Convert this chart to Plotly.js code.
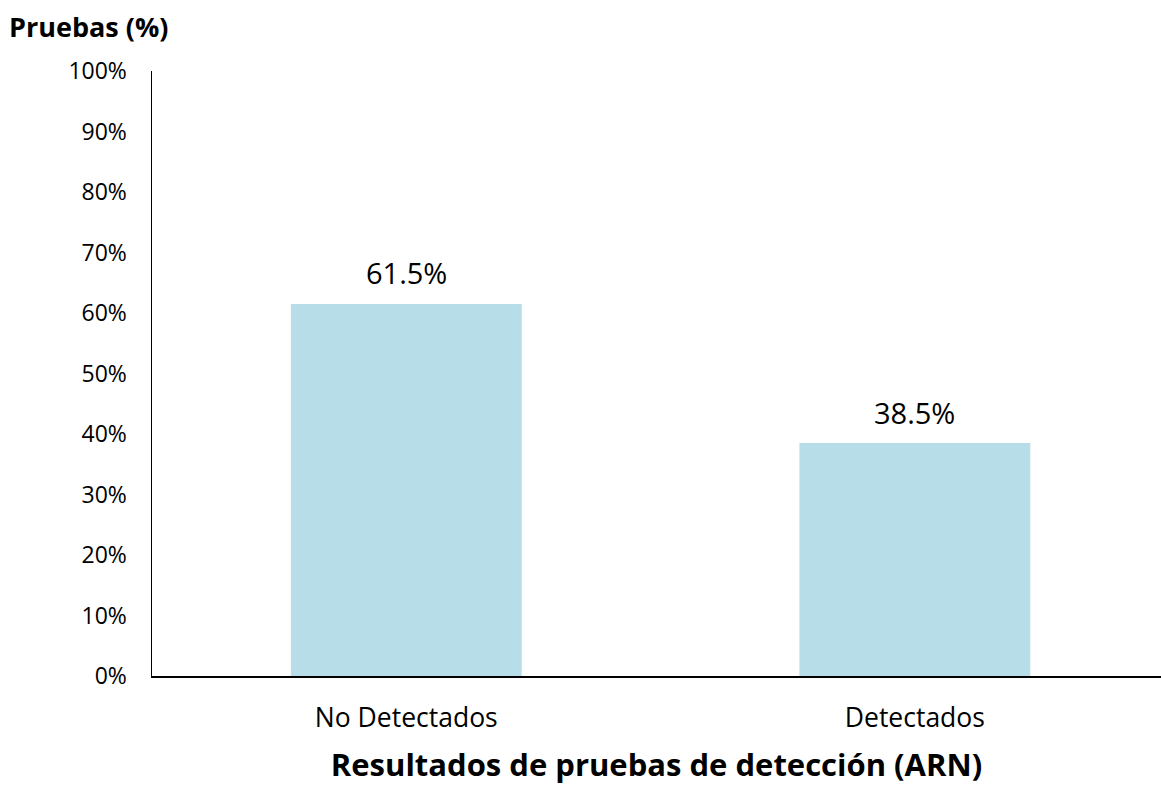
<!DOCTYPE html>
<html>
<head>
<meta charset="utf-8">
<script src="https://cdn.plot.ly/plotly-3.0.1.min.js"></script>
<style>html,body{margin:0;padding:0;background:#fff;}#chart{width:1161px;height:785px;}</style>
</head>
<body>
<div id="chart"></div>
<script>
const categories = ["No Detectados", "Detectados"];
const values = [0.615, 0.385];
const valueLabels = ["61.5%", "38.5%"];
const yTickVals = [0, 0.1, 0.2, 0.3, 0.4, 0.5, 0.6, 0.7, 0.8, 0.9, 1.0];
const yTickText = ["0%", "10%", "20%", "30%", "40%", "50%", "60%", "70%", "80%", "90%", "100%"];

const FONT = "Open Sans, Noto Sans, sans-serif";

const trace = {
  type: "bar",
  x: categories,
  y: values,
  marker: {color: "#B7DDE8"},
  width: 0.454,
  hoverinfo: "skip"
};

const valueAnnotations = categories.map((c, i) => ({
  x: c, y: values[i], xref: "x", yref: "y",
  text: valueLabels[i], showarrow: false,
  xanchor: "center", yanchor: "middle", yshift: 31,
  font: {family: FONT, size: 29, color: "#000"}
}));

const layout = {
  width: 1161, height: 785,
  margin: {l: 152, r: 0, t: 71, b: 109},
  paper_bgcolor: "#fff", plot_bgcolor: "#fff",
  showlegend: false,
  font: {family: FONT, color: "#000"},
  xaxis: {
    type: "category",
    range: [-0.5, 1.484],
    showline: true, linecolor: "#000", linewidth: 2,
    ticks: "", showgrid: false, zeroline: false,
    tickfont: {family: FONT, size: 26.5, color: "#000"},
    ticklabelstandoff: 17,
    title: {text: "<b>Resultados de pruebas de detección (ARN)</b>", font: {family: FONT, size: 31, color: "#000"}, standoff: 24}
  },
  yaxis: {
    range: [0, 1],
    tickvals: yTickVals, ticktext: yTickText,
    showline: true, linecolor: "#000", linewidth: 1.5,
    ticks: "", showgrid: false, zeroline: false,
    tickfont: {family: FONT, size: 23, color: "#000"},
    ticklabelstandoff: 19
  },
  annotations: valueAnnotations.concat([{
    text: "<b>Pruebas (%)</b>", xref: "paper", yref: "paper",
    x: -152/1009 + 7/1009, y: 1 + 44/605, xanchor: "left", yanchor: "middle",
    showarrow: false, font: {family: FONT, size: 27, color: "#000"}
  }])
};

Plotly.newPlot("chart", [trace], layout, {displayModeBar: false, staticPlot: true});
</script>
</body>
</html>
